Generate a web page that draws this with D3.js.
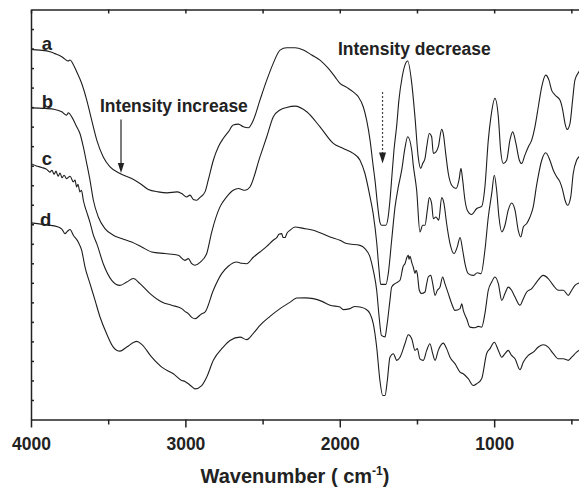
<!DOCTYPE html>
<html>
<head>
<meta charset="utf-8">
<script src="https://cdn.jsdelivr.net/npm/d3@7"></script>
<style>
body { margin: 0; background: #fff; }
text { font-family: "Liberation Sans", Arial, sans-serif; font-weight: bold; fill: #222; }
</style>
</head>
<body>
<svg width="579" height="488"></svg>
<script>
// spectra: [wavenumber (cm-1), transmittance in tick units]
var spectrumA = [[4000,18.96],[3942,18.92],[3877,18.84],[3845,18.74],[3801,18.58],[3780,18.46],[3760,18.36],[3747,18.41],[3728,18.21],[3704,17.81],[3672,17.22],[3639,16.36],[3607,15.33],[3574,14.31],[3532,13.45],[3488,12.94],[3424,12.60],[3348,12.34],[3294,12.09],[3240,11.78],[3176,11.66],[3119,11.61],[3054,11.66],[3024,11.57],[2992,11.40],[2970,11.49],[2949,11.27],[2927,11.23],[2905,11.38],[2873,11.66],[2852,12.26],[2819,13.28],[2787,13.96],[2755,14.39],[2722,14.73],[2690,15.08],[2657,15.13],[2625,14.99],[2593,14.94],[2560,15.33],[2517,16.36],[2473,17.38],[2431,18.24],[2387,18.92],[2344,19.04],[2290,19.04],[2236,18.92],[2182,18.67],[2128,18.41],[2074,17.98],[2031,17.55],[1999,17.22],[1955,17.01],[1913,16.78],[1880,16.53],[1848,16.02],[1826,15.33],[1804,14.31],[1783,12.94],[1772,12.26],[1754,10.89],[1740,10.10],[1729,9.95],[1701,9.95],[1686,10.41],[1675,11.23],[1662,12.51],[1649,13.79],[1631,15.08],[1617,16.36],[1597,17.49],[1578,18.15],[1560,18.36],[1534,17.23],[1513,15.50],[1492,13.45],[1476,12.86],[1463,13.11],[1448,13.37],[1437,13.96],[1420,14.65],[1405,14.48],[1394,13.63],[1377,13.71],[1362,13.96],[1340,14.86],[1330,14.65],[1314,13.63],[1297,12.60],[1275,12.00],[1247,11.83],[1228,12.26],[1215,12.86],[1204,12.26],[1189,11.23],[1174,10.72],[1146,10.50],[1113,10.81],[1081,10.92],[1060,11.91],[1038,14.31],[1021,15.50],[995,16.45],[973,15.50],[958,13.79],[941,13.11],[919,13.28],[898,14.31],[880,14.73],[859,14.14],[837,13.28],[822,13.11],[801,13.54],[779,13.96],[757,14.31],[736,14.99],[714,16.02],[692,17.04],[666,17.64],[645,17.38],[628,16.87],[606,16.62],[574,16.36],[556,15.85],[541,15.16],[527,14.86],[509,15.16],[492,16.36],[477,17.38],[451,17.81],[425,18.15]];

var spectrumB = [[4000,15.96],[3909,15.93],[3845,15.88],[3801,15.76],[3769,15.59],[3758,15.71],[3736,15.50],[3704,14.99],[3683,14.65],[3661,13.96],[3639,13.11],[3618,12.26],[3596,11.23],[3564,10.37],[3521,9.78],[3467,9.44],[3413,9.27],[3348,9.09],[3283,8.84],[3218,8.58],[3132,8.50],[3046,8.41],[3003,8.15],[2981,8.24],[2959,7.98],[2938,7.90],[2905,8.05],[2862,8.50],[2830,9.59],[2776,10.89],[2733,11.40],[2690,11.74],[2657,11.83],[2614,11.74],[2582,11.91],[2517,13.45],[2473,14.48],[2431,15.50],[2387,15.85],[2344,15.98],[2290,16.05],[2214,15.76],[2128,14.99],[2042,14.14],[1977,13.88],[1913,13.63],[1869,13.28],[1837,12.60],[1804,11.40],[1783,10.51],[1761,9.08],[1746,7.69],[1735,6.92],[1701,6.92],[1686,7.47],[1664,9.18],[1642,10.89],[1621,11.91],[1599,12.77],[1578,13.90],[1560,14.48],[1534,13.79],[1524,13.03],[1502,11.74],[1481,9.61],[1463,9.95],[1448,9.95],[1433,10.72],[1420,11.37],[1405,11.06],[1394,10.29],[1377,10.37],[1359,10.21],[1340,11.37],[1325,11.06],[1308,10.04],[1286,9.01],[1260,8.50],[1239,8.84],[1221,9.32],[1204,8.67],[1189,7.98],[1168,7.47],[1135,7.38],[1109,7.52],[1085,7.47],[1060,8.67],[1038,10.37],[1016,11.57],[999,12.51],[984,11.74],[969,10.37],[951,9.61],[930,9.95],[909,10.72],[887,11.09],[865,10.72],[844,9.69],[828,9.35],[811,9.86],[789,10.04],[768,10.37],[747,10.89],[725,12.00],[692,13.28],[666,13.66],[639,13.28],[617,12.77],[595,12.43],[574,12.17],[556,11.74],[541,11.23],[524,10.97],[504,11.40],[488,12.60],[466,13.28],[451,13.45],[425,13.69]];

var spectrumC = [[4000,13.10],[3968,13.00],[3931,12.91],[3898,12.81],[3877,12.67],[3864,12.77],[3851,12.56],[3838,12.72],[3825,12.46],[3812,12.62],[3799,12.38],[3786,12.51],[3769,12.34],[3747,12.46],[3726,12.17],[3715,12.26],[3704,11.91],[3696,12.05],[3683,11.66],[3673,11.74],[3661,11.23],[3650,10.89],[3639,10.62],[3618,10.10],[3596,9.44],[3574,9.01],[3532,7.98],[3477,7.13],[3424,6.87],[3380,7.04],[3337,7.22],[3294,6.96],[3229,6.45],[3153,6.02],[3089,5.85],[3024,5.68],[3003,5.54],[2981,5.42],[2959,5.23],[2938,5.16],[2894,5.42],[2873,5.50],[2819,6.62],[2765,7.47],[2722,7.85],[2668,8.07],[2635,8.00],[2603,7.98],[2560,8.31],[2517,8.58],[2473,8.87],[2431,9.18],[2407,9.33],[2394,9.49],[2376,9.52],[2368,9.33],[2355,9.32],[2342,9.54],[2323,9.69],[2290,9.86],[2236,9.79],[2172,9.69],[2063,9.35],[1999,9.18],[1955,9.01],[1869,8.92],[1837,8.75],[1804,8.32],[1783,7.64],[1761,6.62],[1746,5.33],[1730,4.31],[1707,4.23],[1696,4.73],[1675,6.10],[1664,6.78],[1642,6.96],[1610,7.13],[1589,7.85],[1578,7.98],[1565,8.31],[1556,8.41],[1552,8.21],[1545,8.36],[1534,8.05],[1524,7.81],[1513,7.49],[1506,7.64],[1498,7.47],[1485,6.62],[1470,6.45],[1448,6.53],[1437,6.96],[1427,7.30],[1411,7.38],[1398,6.96],[1383,6.36],[1368,6.62],[1351,6.78],[1334,7.30],[1319,6.96],[1297,6.45],[1275,5.93],[1254,5.59],[1221,5.68],[1210,5.93],[1200,5.59],[1178,5.16],[1157,4.73],[1124,4.70],[1103,4.77],[1081,4.73],[1060,5.42],[1038,6.62],[1016,7.04],[995,7.30],[973,6.96],[951,6.10],[930,6.45],[909,6.78],[887,6.62],[865,6.27],[833,5.85],[811,6.19],[789,6.53],[757,6.70],[725,7.04],[682,7.38],[650,7.22],[617,6.87],[585,6.62],[552,6.62],[520,6.36],[498,6.62],[477,6.87],[451,6.99],[425,7.08]];

var spectrumD = [[4000,10.07],[3909,9.98],[3823,9.86],[3799,9.74],[3780,9.52],[3764,9.64],[3747,9.73],[3726,9.44],[3694,9.09],[3672,8.67],[3650,7.81],[3618,6.96],[3585,6.10],[3553,5.25],[3510,4.39],[3467,3.71],[3424,3.50],[3380,3.71],[3315,4.00],[3283,3.85],[3218,3.19],[3153,2.68],[3078,2.34],[3024,2.00],[3003,1.95],[2981,1.83],[2959,1.69],[2938,1.57],[2894,1.74],[2862,2.17],[2819,3.03],[2755,3.71],[2711,4.05],[2646,4.22],[2603,4.09],[2560,4.41],[2517,4.82],[2452,5.28],[2387,5.68],[2323,6.00],[2279,6.22],[2225,6.23],[2172,6.19],[2115,6.05],[2063,5.85],[1999,5.76],[1977,5.63],[1934,5.68],[1902,5.79],[1869,5.76],[1837,5.68],[1804,5.42],[1783,4.91],[1761,3.71],[1740,2.00],[1722,1.23],[1707,1.23],[1692,2.00],[1675,3.19],[1653,3.37],[1631,3.03],[1610,3.19],[1578,3.88],[1556,4.34],[1534,4.14],[1513,3.54],[1498,3.63],[1481,3.11],[1459,3.03],[1437,3.54],[1416,3.88],[1398,3.37],[1383,3.03],[1362,3.54],[1330,3.91],[1308,3.63],[1286,3.19],[1254,2.86],[1221,2.43],[1200,2.34],[1168,2.09],[1135,1.74],[1113,1.83],[1081,2.09],[1049,3.37],[1027,3.63],[999,3.96],[973,3.54],[951,3.19],[930,3.37],[909,3.54],[887,3.28],[865,3.11],[833,2.55],[811,2.94],[779,3.28],[747,3.45],[714,3.71],[682,3.83],[650,3.71],[617,3.37],[585,3.11],[552,3.11],[520,3.03],[498,3.19],[466,3.45],[451,3.54],[425,3.64]];

var seriesNames = ["a", "b", "c", "d"];
var majorTicks = [4000, 3000, 2000, 1000];
var minorTicks = [3500, 2500, 1500, 500];

function main(){
    var svg = d3.select("svg"),
        margin = {top: 9.5, left: 31},
        plotBottom = 419.5;

    var x = d3.scaleLinear()
              .domain([4000, 400])
              .range([margin.left, 586.8]);

    var y = d3.scaleLinear()
              .domain([0, 21])
              .range([plotBottom, margin.top]);

    var spectra = [spectrumA, spectrumB, spectrumC, spectrumD];

    svg.append("clipPath").attr("id", "plot")
        .append("rect")
        .attr("x", margin.left).attr("y", margin.top)
        .attr("width", x(400) - margin.left).attr("height", plotBottom - margin.top);

    var line = d3.line()
                .x(function(d){ return x(d[0]); })
                .y(function(d){ return y(d[1]); })
                .curve(d3.curveMonotoneX);

    svg.append("g")
        .attr("clip-path", "url(#plot)")
        .selectAll("path")
        .data(spectra)
        .enter().append("path")
        .attr("d", line)
        .attr("fill", "none")
        .attr("stroke", "#1e1e1e")
        .attr("stroke-width", 1.1)
        .attr("stroke-linejoin", "round");

    // axes
    var bottom = svg.append("g")
        .attr("transform", "translate(0," + plotBottom + ")")
        .call(d3.axisBottom(x)
            .tickValues(majorTicks)
            .tickSize(8)
            .tickSizeOuter(0)
            .tickPadding(10)
            .tickFormat(d3.format("d")));
    bottom.selectAll("text")
        .attr("font-size", null)
        .style("font-size", "17.5px")
        .style("font-family", "'Liberation Sans', Arial, sans-serif")
        .style("font-weight", "bold")
        .style("fill", "#222");

    svg.append("g")
        .attr("transform", "translate(0," + plotBottom + ")")
        .call(d3.axisBottom(x)
            .tickValues(minorTicks)
            .tickSize(5)
            .tickFormat(""))
        .select(".domain").remove();

    svg.append("g")
        .attr("transform", "translate(0," + margin.top + ")")
        .call(d3.axisBottom(x)
            .tickValues(majorTicks.concat(minorTicks))
            .tickSize(4)
            .tickSizeOuter(0)
            .tickFormat(""));

    svg.append("g")
        .attr("transform", "translate(" + margin.left + ",0)")
        .call(d3.axisRight(y)
            .tickValues(d3.range(1, 21))
            .tickSize(3)
            .tickSizeOuter(0)
            .tickFormat(""));

    svg.selectAll(".domain, .tick line")
        .attr("stroke", "#222")
        .attr("stroke-width", 1.5);

    // series letters
    var letterPos = [[3930, 18.92], [3930, 15.93], [3930, 13.03], [3942, 9.90]];
    svg.selectAll(".letter")
        .data(seriesNames)
        .enter().append("text")
        .attr("class", "letter")
        .attr("x", function(d, i){ return x(letterPos[i][0]); })
        .attr("y", function(d, i){ return y(letterPos[i][1]); })
        .style("font-size", "18.5px")
        .text(function(d){ return d; });

    // annotations
    svg.append("text")
        .attr("x", x(3553))
        .attr("y", y(15.76))
        .style("font-size", "17.5px")
        .text("Intensity increase");

    var ax = x(3417), top1 = y(15.37), tip1 = y(12.63);
    svg.append("line")
        .attr("x1", ax).attr("x2", ax)
        .attr("y1", top1).attr("y2", tip1 - 8)
        .attr("stroke", "#222").attr("stroke-width", 1.2);
    svg.append("path")
        .attr("d", "M" + (ax - 3.2) + "," + (tip1 - 10) + "L" + (ax + 3.2) + "," + (tip1 - 10) + "L" + ax + "," + tip1 + "Z")
        .attr("fill", "#222");

    svg.append("text")
        .attr("x", x(2012))
        .attr("y", y(18.67))
        .style("font-size", "17.5px")
        .text("Intensity decrease");

    var dx = x(1723), top2 = y(16.78), tip2 = y(13.11);
    svg.append("line")
        .attr("x1", dx).attr("x2", dx)
        .attr("y1", top2).attr("y2", tip2 - 10)
        .attr("stroke", "#444").attr("stroke-width", 1.2)
        .attr("stroke-dasharray", "2,2");
    svg.append("path")
        .attr("d", "M" + (dx - 3.5) + "," + (tip2 - 11) + "L" + (dx + 3.5) + "," + (tip2 - 11) + "L" + dx + "," + tip2 + "Z")
        .attr("fill", "#222");

    // x title
    var title = svg.append("text")
        .attr("x", x(2290))
        .attr("y", 483)
        .attr("text-anchor", "middle")
        .style("font-size", "20px");
    title.append("tspan").text("Wavenumber ( cm");
    title.append("tspan").attr("dy", -8).style("font-size", "12px").text("-1");
    title.append("tspan").attr("dy", 8).text(")");
}

main();
</script>
</body>
</html>
